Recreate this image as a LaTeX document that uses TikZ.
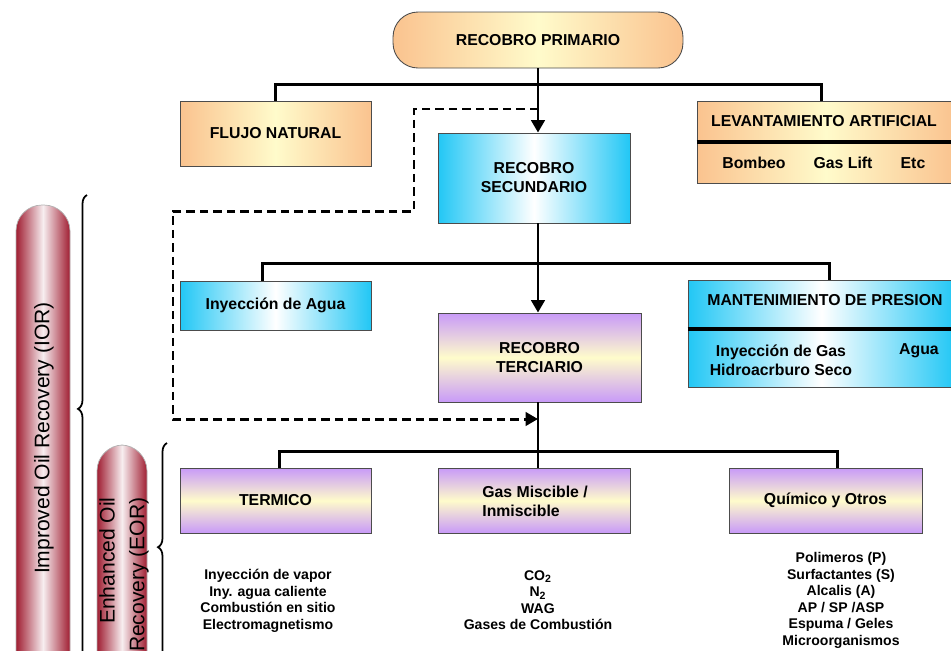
\documentclass[tikz,border=0pt]{standalone}
\usepackage{fontspec}
\setmainfont{Liberation Sans}
\usetikzlibrary{calc,arrows.meta,decorations.pathreplacing}
\definecolor{orE}{HTML}{FAC38F}
\definecolor{orC}{HTML}{FFFBCB}
\definecolor{blE}{HTML}{22C7F5}
\definecolor{puE}{HTML}{C89AF8}
\definecolor{puC}{HTML}{FFFCCB}
\definecolor{pilR}{HTML}{A01E32}
\definecolor{pilW}{HTML}{F7EEF0}
\tikzset{
  bx/.style={draw=black!70, line width=0.5pt, inner sep=2pt, align=center, font=\fontsize{9}{10.8}\selectfont\bfseries},
  orng/.style={left color=orE, right color=orE, middle color=orC},
  blu/.style={left color=blE, right color=blE, middle color=white},
  purp/.style={top color=puE, bottom color=puE, middle color=puC},
  brc/.style={decorate, decoration={brace, amplitude=0.18cm, aspect=#1}, line width=1pt}}

\begin{document}
\begin{tikzpicture}[x=0.02cm, y=-0.02cm,
  ln/.style={line width=1.4pt},
  arr/.style={line width=1.7pt, -{Triangle[length=0.25cm, width=0.27cm]}},
  dsh/.style={line width=1.7pt, dash pattern=on 0.17cm off 0.1cm, -{Triangle[length=0.25cm, width=0.27cm]}},
  hd/.style={font=\fontsize{9}{10.8}\selectfont\bfseries, inner sep=0pt},
  lst/.style={font=\fontsize{8}{9.4}\selectfont\bfseries, align=center, inner sep=0pt},
  pil/.style={draw=black!30, rounded corners=0.52cm, left color=pilR, right color=pilR, middle color=pilW},
  side/.style={rotate=90, font=\fontsize{12}{17}\selectfont, inner sep=0pt}]
\useasboundingbox (0,0) rectangle (951,650);
\clip (0,0) rectangle (951,650);
% boxes
\node[bx, orng, rounded corners=0.5cm, minimum width=5.8cm, minimum height=1.12cm] (prim) at (538,40) {RECOBRO PRIMARIO};
\node[bx, orng, minimum width=3.82cm, minimum height=1.3cm] (flujo) at (275.5,133.5) {FLUJO NATURAL};
\node[bx, orng, minimum width=5.16cm, minimum height=1.64cm] (levant) at (826,142) {};
\node[bx, blu, minimum width=3.84cm, minimum height=1.8cm] (sec) at (534,178) {RECOBRO\\SECUNDARIO};
\node[bx, blu, minimum width=3.82cm, minimum height=0.98cm] (agua) at (275.5,305.5) {Inyección de Agua};
\node[bx, blu, minimum width=5.34cm, minimum height=2.14cm] (mant) at (821.5,333.5) {};
\node[bx, purp, minimum width=4.06cm, minimum height=1.78cm] (ter) at (539.5,357.5) {RECOBRO\\TERCIARIO};
\node[bx, purp, minimum width=3.82cm, minimum height=1.3cm] (term) at (275.5,500.5) {TERMICO};
\node[bx, purp, minimum width=3.84cm, minimum height=1.3cm] (gas) at (534,500.5) {};
\node[bx, purp, minimum width=3.86cm, minimum height=1.3cm] (quim) at (825.5,500.5) {Químico y Otros};
% texts inside the split boxes
\draw[line width=2pt] (levant.west) -- (levant.east);
\node[hd] (levT) at (824,121) {LEVANTAMIENTO ARTIFICIAL};
\foreach \t/\x [count=\i] in {Bombeo/754, Gas Lift/843, Etc/913}
  \node[hd] (lev\i) at (\x,163) {\t};
\draw[line width=2pt] ($(mant.west)+(0,-4.5)$) -- ($(mant.east)+(0,-4.5)$);
\node[hd, anchor=west] (manT) at (707,300) {MANTENIMIENTO DE PRESION};
\node[hd, align=center] (manG) at (781,360.5) {Inyección de Gas\\Hidroacrburo Seco};
\node[hd] (manA) at (919,351) {Agua};
\node[hd, align=left, anchor=west] (gasT) at (482,501) {Gas Miscible /\\Inmiscible};
% lists
\node[lst] (lTerm) at (268,601) {Inyección de vapor\\Iny. agua caliente\\Combustión en sitio\\Electromagnetismo};
\node[lst] (lGas) at (538,600) {CO\textsubscript{2}\\N\textsubscript{2}\\WAG\\Gases de Combustión};
\node[lst] (lQuim) at (841,600.5) {Polimeros (P)\\Surfactantes (S)\\Alcalis (A)\\AP / SP /ASP\\Espuma / Geles\\Microorganismos};
% connectors
\draw[ln] (flujo.north) -- ++(0,-16) -| ($(levant.north west)+(125,0)$);
\draw[arr] (prim.south) -- (prim.south |- sec.north);
\draw[ln] ($(agua.north west)+(83,0)$) -- ++(0,-17) -| ($(mant.north west)+(142,0)$);
\draw[arr] (prim.south |- sec.south) -- (prim.south |- ter.north);
\draw[ln] ($(term.north west)+(100,0)$) -- ++(0,-16) -| ($(quim.north west)+(109,0)$);
\draw[ln] (prim.south |- ter.south) -- (prim.south |- gas.north);
\coordinate (d0) at (538,109);
\coordinate (d1) at (538,419);
\draw[dsh] (d0) -| (414,211) -| (173,419) -- (d1);
% IOR / EOR
\shade[pil] (16,205) rectangle (70,700);
\node[side] (ior) at (44,438) {Improved Oil Recovery (IOR)};
\draw[brc=0.54] (87,660) -- (87,195);
\shade[pil] (97,445) rectangle (147,700);
\node[side, align=right, anchor=east] (eor) at (124,497) {Enhanced Oil\\Recovery (EOR)};
\draw[brc=0.52] (167,660) -- (167,443);
\end{tikzpicture}
\end{document}
